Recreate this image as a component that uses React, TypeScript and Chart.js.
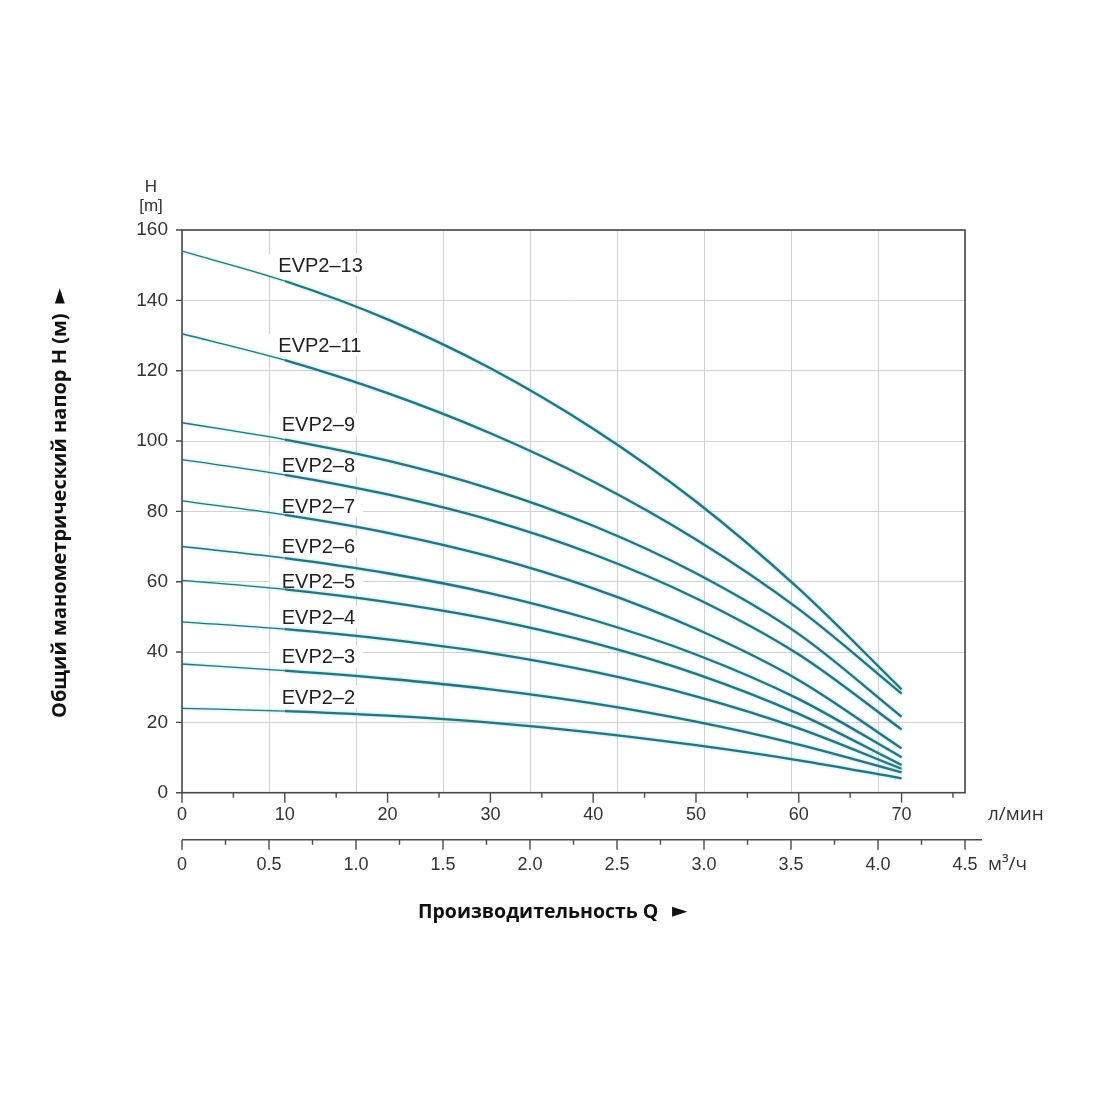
import { useEffect, useRef } from 'react';
import { Chart, registerables } from 'chart.js';

Chart.register(...registerables);

// Flow (l/min) at which heads were read
const flowLpm = [0, 10, 20, 30, 40, 50, 60, 70];

// Head H (m) of each pump model
const evp2_13 = [154, 145.5, 134.6, 120.7, 103.5, 82.8, 58, 29.4];
const evp2_11 = [130.5, 123, 113.6, 102.2, 88.5, 72, 52.2, 28.2];
const evp2_9 = [105.2, 100.4, 94.4, 86.4, 75.9, 62.4, 45.1, 21.6];
const evp2_8 = [94.7, 90.4, 84.8, 77.5, 67.8, 55.3, 39.3, 18];
const evp2_7 = [83, 79, 73.9, 67.1, 58.1, 46.6, 32, 12.6];
const evp2_6 = [70, 66.7, 62.4, 56.7, 49.1, 39.3, 26.6, 10.1];
const evp2_5 = [60.4, 57.8, 54.2, 49.3, 42.6, 33.8, 22.4, 7.9];
const evp2_4 = [48.6, 46.5, 43.6, 39.7, 34.4, 27.4, 18.3, 6.8];
const evp2_3 = [36.6, 34.7, 32.4, 29.4, 25.4, 20.2, 13.7, 5.8];
const evp2_2 = [24, 23.2, 21.9, 19.9, 17.1, 13.5, 9.2, 4.1];

const seriesNames = ['EVP2–13', 'EVP2–11', 'EVP2–9', 'EVP2–8', 'EVP2–7', 'EVP2–6', 'EVP2–5', 'EVP2–4', 'EVP2–3', 'EVP2–2'];
const seriesValues = [evp2_13, evp2_11, evp2_9, evp2_8, evp2_7, evp2_6, evp2_5, evp2_4, evp2_3, evp2_2];
// head (m) and flow (l/min) at which each curve label sits
const labelHead = [150, 127.3, 104.6, 92.9, 81.5, 69.9, 60, 49.9, 38.7, 27.2];
const labelFlow = [9.37, 9.37, 9.7, 9.7, 9.7, 9.7, 9.7, 9.7, 9.7, 9.7];

// Axis ticks
const headTicks = [0, 20, 40, 60, 80, 100, 120, 140, 160];
const lpmTicks = [0, 10, 20, 30, 40, 50, 60, 70];
const lpmMinorTicks = [5, 15, 25, 35, 45, 55, 65, 75];
const m3hTicks = [0, 0.5, 1.0, 1.5, 2.0, 2.5, 3.0, 3.5, 4.0, 4.5];
const m3hMinorTicks = [0.25, 0.75, 1.25, 1.75, 2.25, 2.75, 3.25, 3.75, 4.25];

const TICK_FONT = '"Liberation Sans", Arial, sans-serif';
const TITLE_FONT = '"Open Sans", "Noto Sans", sans-serif';

const decorPlugin = {
  id: 'decor',
  beforeDatasetsDraw(chart: any) {
    const ctx = chart.ctx;
    const xs = chart.scales.x;
    const ys = chart.scales.y;
    ctx.save();
    ctx.font = `20px ${TICK_FONT}`;
    ctx.textBaseline = 'middle';
    ctx.textAlign = 'left';
    seriesNames.forEach((name, i) => {
      const px = xs.getPixelForValue(labelFlow[i]);
      const py = ys.getPixelForValue(labelHead[i]);
      const w = ctx.measureText(name).width;
      ctx.fillStyle = '#ffffff';
      ctx.fillRect(px - 12, py - 11, w + 20, 22);
      ctx.fillStyle = '#222222';
      ctx.fillText(name, px, py + 1);
    });
    ctx.restore();
  },
  beforeDatasetDraw(chart: any) {
    const ctx = chart.ctx;
    ctx.save();
    ctx.shadowColor = 'rgba(80,205,220,0.75)';
    ctx.shadowBlur = 3;
  },
  afterDatasetDraw(chart: any) {
    chart.ctx.restore();
  },
  afterDatasetsDraw(chart: any) {
    const ctx = chart.ctx;
    const a = chart.chartArea;
    const xs = chart.scales.x;
    const x2 = chart.scales.x2;
    const ys = chart.scales.y;
    ctx.save();
    // frame
    ctx.strokeStyle = '#4a4a4a';
    ctx.lineWidth = 1.6;
    ctx.strokeRect(a.left, a.top, a.right - a.left, a.bottom - a.top);
    // y ticks
    ctx.lineWidth = 1.4;
    ctx.beginPath();
    headTicks.forEach((v) => {
      const py = ys.getPixelForValue(v);
      ctx.moveTo(a.left - 6, py);
      ctx.lineTo(a.left, py);
    });
    // l/min ticks
    lpmTicks.forEach((v) => {
      const px = xs.getPixelForValue(v);
      ctx.moveTo(px, a.bottom);
      ctx.lineTo(px, a.bottom + 10);
    });
    lpmMinorTicks.forEach((v) => {
      const px = xs.getPixelForValue(v);
      ctx.moveTo(px, a.bottom);
      ctx.lineTo(px, a.bottom + 5);
    });
    ctx.stroke();
    // m3/h axis
    const ay = x2.top;
    ctx.beginPath();
    ctx.moveTo(x2.getPixelForValue(0), ay);
    ctx.lineTo(x2.right + 17, ay);
    m3hTicks.forEach((v) => {
      const px = x2.getPixelForValue(v);
      ctx.moveTo(px, ay);
      ctx.lineTo(px, ay + 10);
    });
    m3hMinorTicks.forEach((v) => {
      const px = x2.getPixelForValue(v);
      ctx.moveTo(px, ay);
      ctx.lineTo(px, ay + 5);
    });
    ctx.stroke();

    // unit labels
    ctx.fillStyle = '#333333';
    ctx.textBaseline = 'middle';
    ctx.textAlign = 'left';
    ctx.font = `19px ${TITLE_FONT}`;
    ctx.fillText('л/мин', 988, 815);
    ctx.fillText('м³/ч', 988, 865);
    ctx.font = `17px ${TICK_FONT}`;
    ctx.textAlign = 'center';
    ctx.fillText('H', 151, 187);
    ctx.fillText('[m]', 151, 206);

    // x title
    ctx.fillStyle = '#111111';
    ctx.font = `bold 19.5px ${TITLE_FONT}`;
    ctx.textAlign = 'left';
    ctx.fillText('Производительность Q', 418, 912);
    ctx.font = `20px "DejaVu Sans", sans-serif`;
    ctx.fillText('►', 672, 912);

    // y title
    ctx.save();
    ctx.translate(60, 718);
    ctx.rotate(-Math.PI / 2);
    ctx.font = `bold 20px ${TITLE_FONT}`;
    ctx.textAlign = 'left';
    const t = 'Общий манометрический напор H (м)';
    ctx.fillText(t, 0, 0);
    const tw = ctx.measureText(t).width;
    ctx.font = `20px "DejaVu Sans", sans-serif`;
    ctx.fillText('►', tw + 10, 0);
    ctx.restore();

    ctx.restore();
  },
};

export default function App() {
  const ref = useRef<HTMLCanvasElement | null>(null);
  useEffect(() => {
    if (!ref.current) return;
    const datasets = seriesValues.map((vals, i) => ({
      label: seriesNames[i],
      data: flowLpm.map((q, j) => ({ x: q, y: vals[j] })),
      borderColor: '#2e717c',
      borderWidth: 2.2,
      pointRadius: 0,
      fill: false,
      cubicInterpolationMode: 'monotone' as const,
      segment: {
        borderWidth: (c: any) => (c.p0.parsed.x < 5 ? 1.3 : 2.3),
      },
    }));
    const chart = new Chart(ref.current, {
      type: 'line',
      data: { datasets },
      plugins: [decorPlugin],
      options: {
        animation: false,
        responsive: false,
        devicePixelRatio: 1,
        layout: { padding: { left: 0, top: 230, right: 135, bottom: 220.3 } },
        plugins: { legend: { display: false }, tooltip: { enabled: false } },
        scales: {
          y: {
            type: 'linear',
            position: 'left',
            min: 0,
            max: 160,
            afterBuildTicks: (s: any) => {
              s.ticks = headTicks.map((v) => ({ value: v }));
            },
            afterFit: (s: any) => {
              s.width = 182;
            },
            grid: { color: '#d2d2d2', lineWidth: 1, drawTicks: false },
            border: { display: false },
            ticks: {
              padding: 14,
              color: '#333333',
              font: { family: TICK_FONT, size: 19 },
              callback: (v: any) => String(v),
            },
          },
          x: {
            type: 'linear',
            position: 'bottom',
            min: 0,
            max: 76.17,
            afterBuildTicks: (s: any) => {
              s.ticks = lpmTicks.map((v) => ({ value: v }));
            },
            afterFit: (s: any) => {
              s.height = 47;
            },
            grid: { display: false, drawTicks: false },
            border: { display: false },
            ticks: {
              padding: 12,
              maxRotation: 0,
              color: '#333333',
              font: { family: TICK_FONT, size: 18 },
              callback: (v: any) => String(v),
            },
          },
          x2: {
            type: 'linear',
            position: 'bottom',
            min: 0,
            max: 4.5,
            afterBuildTicks: (s: any) => {
              s.ticks = m3hTicks.map((v) => ({ value: v }));
            },
            afterFit: (s: any) => {
              s.height = 40;
            },
            grid: { color: '#d2d2d2', lineWidth: 1, drawTicks: false, drawOnChartArea: true },
            border: { display: false },
            ticks: {
              padding: 15,
              maxRotation: 0,
              color: '#333333',
              font: { family: TICK_FONT, size: 18 },
              callback: (v: any) => (Number(v) === 0 ? '0' : Number(v).toFixed(1)),
            },
          },
        },
      },
    });
    return () => chart.destroy();
  }, []);
  return (
    <div style={{ position: 'absolute', left: 0, top: 0, width: 1100, height: 1100, background: '#fff' }}>
      <canvas ref={ref} width={1100} height={1100} />
    </div>
  );
}
